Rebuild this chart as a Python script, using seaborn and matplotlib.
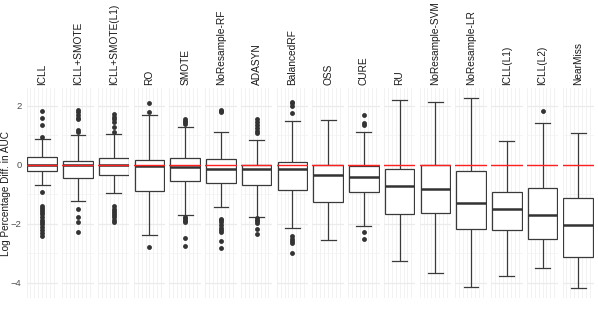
import numpy as np
import pandas as pd
import matplotlib
matplotlib.use("Agg")
import matplotlib.pyplot as plt
import seaborn as sns

methods = ["ICLL", "ICLL+SMOTE", "ICLL+SMOTE(L1)", "RO", "SMOTE", "NoResample-RF",
           "ADASYN", "BalancedRF", "OSS", "CURE", "RU", "NoResample-SVM",
           "NoResample-LR", "ICLL(L1)", "ICLL(L2)", "NearMiss"]

whisk_lo = [-0.68, -1.22, -0.94, -2.37, -1.69, -1.44, -1.75, -2.15, -2.54, -2.07, -3.25, -3.65, -4.15, -3.75, -3.50, -4.18]
q1       = [-0.20, -0.45, -0.34, -0.87, -0.56, -0.60, -0.68, -0.85, -1.24, -0.90, -1.67, -1.64, -2.18, -2.20, -2.52, -3.11]
median   = [0.01, 0.01, 0.01, -0.02, -0.06, -0.12, -0.15, -0.15, -0.35, -0.40, -0.70, -0.82, -1.30, -1.50, -1.69, -2.02]
q3       = [0.26, 0.14, 0.25, 0.17, 0.23, 0.19, 0.01, 0.11, 0.00, -0.03, -0.14, 0.00, -0.19, -0.90, -0.79, -1.13]
whisk_hi = [0.88, 1.00, 1.05, 1.70, 1.30, 1.13, 0.85, 1.50, 1.53, 1.13, 2.20, 2.15, 2.28, 0.81, 1.43, 1.07]

outliers = {
    "ICLL": [0.96, 1.36, 1.58, 1.83, -0.93, -1.38, -1.45, -1.52, -1.60, -1.65, -1.78, -1.85,
             -1.92, -2.00, -2.10, -2.20, -2.30, -2.40],
    "ICLL+SMOTE": [1.12, 1.20, 1.55, 1.60, 1.70, 1.78, 1.85, -1.49, -1.75, -1.93, -2.26],
    "ICLL+SMOTE(L1)": [1.13, 1.30, 1.45, 1.55, 1.62, 1.72, -1.40, -1.48, -1.55, -1.62, -1.70,
                       -1.78, -1.85, -1.92],
    "RO": [1.78, 2.09, -2.77],
    "SMOTE": [1.40, 1.45, 1.50, 1.55, -1.75, -1.80, -1.85, -1.90, -1.95, -2.46, -2.73],
    "NoResample-RF": [1.78, 1.82, 1.86, -1.82, -1.88, -1.95, -2.05, -2.12, -2.20, -2.27,
                      -2.58, -2.82],
    "ADASYN": [1.08, 1.15, 1.25, 1.35, 1.45, 1.55, -1.80, -1.85, -1.90, -1.96, -2.18, -2.34],
    "BalancedRF": [1.77, 2.00, 2.09, 2.15, -2.42, -2.50, -2.58, -2.65, -2.97],
    "OSS": [],
    "CURE": [1.36, 1.42, 1.69, -2.28, -2.51],
    "RU": [],
    "NoResample-SVM": [],
    "NoResample-LR": [],
    "ICLL(L1)": [],
    "ICLL(L2)": [1.84],
    "NearMiss": [],
}

y_ticks = [-4, -2, 0, 2]
y_tick_labels = ["\u22124", "\u22122", "0", "2"]

# long tables built from the arrays above
box_df = pd.DataFrame({
    "method": np.repeat(methods, 5),
    "value": np.ravel(np.column_stack([whisk_lo, q1, median, q3, whisk_hi])),
})
out_df = pd.DataFrame([(m, v) for m in methods for v in outliers[m]], columns=["method", "value"])

W, H = 598, 315
fig = plt.figure(figsize=(W / 100, H / 100), dpi=100)
plt.rcParams["font.family"] = ["Liberation Sans", "DejaVu Sans"]

n = len(methods)
left0, pw = 26.5, 31.5
pitch = (594 - left0 - pw) / (n - 1)
top_px, bot_px = 88, 298
ylim = (-4.51, 2.61)
vlines = np.linspace(-0.5, 0.5, 9)

for i, m in enumerate(methods):
    x0 = left0 + pitch * i
    ax = fig.add_axes([x0 / W, 1 - bot_px / H, pw / W, (bot_px - top_px) / H])
    sub = box_df[box_df.method == m]
    sns.boxplot(data=sub, y="value", ax=ax, whis=(0, 100), width=0.94, color="white",
                linecolor="#3A3A3A", linewidth=0.9, showfliers=False,
                medianprops=dict(linewidth=1.8, color="#333333"))
    so = out_df[out_df.method == m]
    if len(so):
        sns.stripplot(data=so, y="value", ax=ax, jitter=False, color="#333333", size=3.5,
                      linewidth=0, zorder=5)
    ax.axhline(0, color="#FF2020", lw=1.0, zorder=6)
    ax.set_xlim(-0.5, 0.5)
    ax.set_ylim(*ylim)
    ax.set_xticks(vlines)
    ax.set_xticklabels([])
    ax.set_yticks(y_ticks)
    ax.set_yticks([-3, -1, 1], minor=True)
    ax.grid(True, which="major", axis="y", color="#EBEBEB", lw=0.9)
    ax.grid(True, which="minor", axis="y", color="#F2F2F2", lw=0.5)
    ax.grid(True, which="major", axis="x", color="#F0F0F0", lw=0.6)
    ax.set_axisbelow(True)
    ax.tick_params(length=0, which="both")
    for s in ax.spines.values():
        s.set_visible(False)
    ax.set_xlabel("")
    ax.set_ylabel("")
    if i == 0:
        ax.set_yticklabels(y_tick_labels, fontsize=6.8, color="#4D4D4D")
        ax.tick_params(axis="y", pad=3.5)
    else:
        ax.set_yticklabels([])
    fig.text((x0 + pw / 2) / W, 1 - 85 / H, m, rotation=90, ha="center", va="bottom",
             fontsize=7.3, color="#1A1A1A")

fig.text(6 / W, 1 - 193 / H, "Log Percentage Diff. in AUC", rotation=90, ha="center",
         va="center", fontsize=7.2, color="#1A1A1A")

fig.savefig("out.png", dpi=100, facecolor="white")
